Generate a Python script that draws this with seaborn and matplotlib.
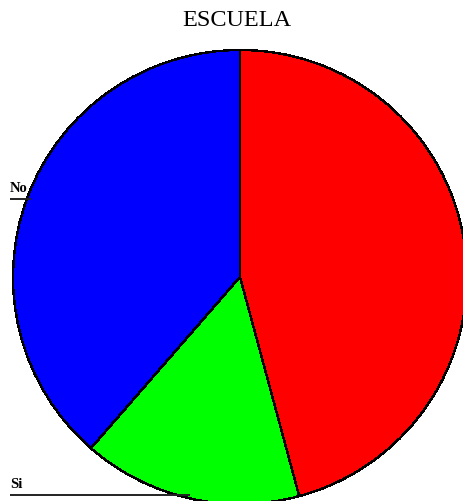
import numpy as np
import matplotlib
matplotlib.use("Agg")
import matplotlib.pyplot as plt
import seaborn as sns

# slice data, clockwise from 12 o'clock
categories = ["", "Si", "No"]
shares = [45.8, 15.6, 38.6]
colors = ["#FF0000", "#00FF00", "#0000FF"]
title = "ESCUELA"

W, H = 463, 501
CX, CY, R = 240, 277, 227  # pie centre / radius in pixels

sns.set_theme(style="white")
plt.rcParams["font.family"] = ["Liberation Serif", "DejaVu Serif"]

fig = plt.figure(figsize=(W / 100, H / 100), dpi=100)
fig.patch.set_facecolor("white")
ax = fig.add_axes([0, 0, 1, 1])

wedges, _ = ax.pie(
    shares,
    colors=colors,
    startangle=90,
    counterclock=False,
    radius=1.0,
    wedgeprops=dict(edgecolor="black", linewidth=1.0, antialiased=False),
)
ax.set_aspect("auto")
ax.set_xlim(-CX / R, (W - CX) / R)
ax.set_ylim(-(H - CY) / R, CY / R)
ax.axis("off")

# leader lines: horizontal from the wedge mid point to the left edge
x_left = ax.get_xlim()[0] + 10 / R
for w, lab in zip(wedges, categories):
    if not lab:
        continue
    mid = np.deg2rad((w.theta1 + w.theta2) / 2)
    px, py = 0.985 * np.cos(mid), 0.985 * np.sin(mid)
    ax.plot([x_left, px], [py, py], color="#222222", lw=1.4, solid_capstyle="butt")
    ax.text(x_left, py + 4 / R, lab, ha="left", va="bottom",
            fontsize=10.5, fontweight="bold", color="black")

fig.text(237 / W, 1 - 21 / H, title, ha="center", va="center",
         fontsize=17.5, color="black")

fig.savefig("out.png", dpi=100, facecolor="white")
